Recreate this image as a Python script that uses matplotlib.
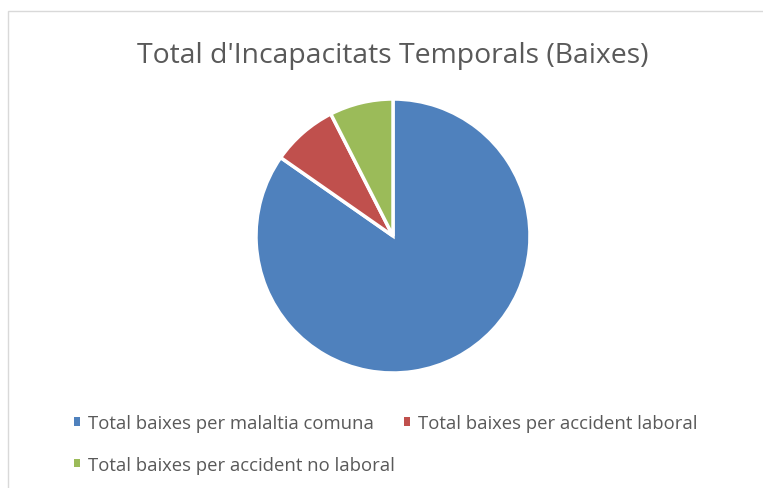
import matplotlib.pyplot as plt
from matplotlib.patches import Rectangle, Patch

labels = ['Total baixes per malaltia comuna',
          'Total baixes per accident laboral',
          'Total baixes per accident no laboral']
values = [84.7, 7.8, 7.5]
colors = ['#4F81BD', '#C0504D', '#9BBB59']

plt.rcParams['font.family'] = ['Open Sans', 'DejaVu Sans']

W, H = 763, 489
fig = plt.figure(figsize=(W / 100, H / 100), dpi=100)

# chart border
fig.patches.append(Rectangle((8 / W, -0.1), 1.2, 1 - 12 / H + 0.1,
                             transform=fig.transFigure, fill=False,
                             edgecolor='#d9d9d9', linewidth=1))

cx, cy, r = 393, 237, 137
ax = fig.add_axes([(cx - r) / W, (H - cy - r) / H, 2 * r / W, 2 * r / H])
ax.pie(values, colors=colors, startangle=90, counterclock=False,
       wedgeprops=dict(edgecolor='white', linewidth=2.5))
ax.set_xlim(-1, 1)
ax.set_ylim(-1, 1)
ax.set_aspect('equal')
ax.axis('off')

fig.text(393 / W, 1 - 56 / H, "Total d'Incapacitats Temporals (Baixes)",
         ha='center', va='center', fontsize=20.4, color='#595959')

handles = [Patch(facecolor=c, edgecolor='none') for c in colors]
order = [0, 2, 1]
fig.legend([handles[i] for i in order], [labels[i] for i in order],
           ncol=2, loc='upper left', bbox_to_anchor=(74 / W, 1 - 415 / H),
           frameon=False, fontsize=13.3, labelcolor='#595959',
           handlelength=0.33, handleheight=0.33, handletextpad=0.45,
           columnspacing=0.45, labelspacing=1.28, borderaxespad=0,
           borderpad=0)

fig.savefig('out.png', dpi=100, facecolor='white')
